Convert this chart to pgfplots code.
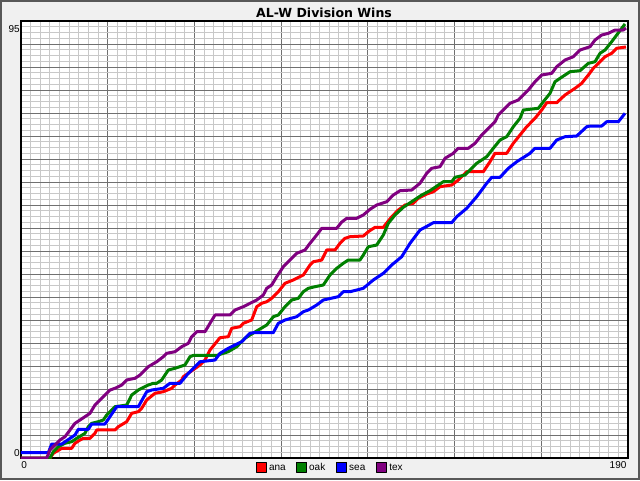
\documentclass[border=0pt]{standalone}
\usepackage{pgfplots}
\pgfplotsset{compat=1.18}
\usepackage{fontspec}
\setmainfont{Liberation Sans}
\newfontfamily\titlefont{DejaVu Sans}
\definecolor{bgcol}{HTML}{F0F0F0}
\definecolor{framecol}{HTML}{585858}
\definecolor{majgrid}{HTML}{707070}
\definecolor{mingrid}{HTML}{C8C8C8}
\definecolor{cana}{HTML}{FF0000}
\definecolor{coak}{HTML}{008000}
\definecolor{csea}{HTML}{0000FF}
\definecolor{ctex}{HTML}{800080}
\begin{document}
\begin{tikzpicture}
\fill[bgcol] (0,0) rectangle (480pt,360pt);
\draw[framecol, line width=1.5pt] (0.75pt,0.75pt) rectangle (479.25pt,359.25pt);
\begin{axis}[
  at={(15.75pt,16.5pt)}, anchor=south west,
  scale only axis, width=455.25pt, height=327.75pt,
  xmin=0, xmax=190, ymin=0, ymax=95,
  axis background/.style={fill=white},
  xtick={0,27.142857,54.285714,81.428571,108.571429,135.714286,162.857143,190},
  ytick={0,5,...,95},
  minor x tick num=8, minor y tick num=3,
  xticklabels={}, yticklabels={},
  major tick length=0pt, minor tick length=0pt,
  grid=both,
  major grid style={majgrid, line width=0.75pt},
  minor grid style={mingrid, line width=0.75pt},
  axis line style={black, line width=1pt},
  every axis plot/.append style={line width=2.25pt, line join=round},
  legend style={draw=none, fill=none, inner sep=0pt, outer sep=0pt,
    at={(0.3871,-0.0206)}, anchor=west, legend columns=4,
    nodes={inner sep=0pt, font=\fontsize{7.5}{9}\selectfont}},
  legend cell align=left,
  legend image code/.code={\draw[#1, draw=black, line width=0.75pt] (0pt,-3.75pt) rectangle (7.5pt,3.75pt);},
]
\addlegendimage{fill=cana}\addlegendentry{\makebox[21.8pt][l]{\hspace{1.6pt}\raisebox{-2pt}{ana}}}
\addlegendimage{fill=coak}\addlegendentry{\makebox[21.8pt][l]{\hspace{1.6pt}\raisebox{-2pt}{oak}}}
\addlegendimage{fill=csea}\addlegendentry{\makebox[21.8pt][l]{\hspace{1.6pt}\raisebox{-2pt}{sea}}}
\addlegendimage{fill=ctex}\addlegendentry{\makebox[21.8pt][l]{\hspace{1.6pt}\raisebox{-2pt}{tex}}}

% ana
\addplot[cana, forget plot] coordinates {
(0,0)(9.08,0)(10.11,1.02)(12.74,2.11)(15.87,2.11)(16.90,3.20)(18.47,3.91)(19.50,4.28)(21.60,4.28)(23.16,5.37)(23.70,6.09)(29.42,6.09)(30.46,6.80)(33.09,7.89)(34.65,9.72)(36.72,10.07)(37.78,10.80)(39.35,12.61)(41.94,14.07)(44.54,14.41)(47.17,15.15)(48.21,15.87)(50.30,16.96)(50.80,17.67)(56.03,20.22)(57.60,21.30)(59.16,23.48)(61.26,25.28)(62.29,26.15)(64.89,26.37)(65.95,28.20)(68.55,28.54)(69.58,29.28)(72.21,30.0)(73.78,32.89)(75.34,33.63)(76.91,33.98)(78.47,34.72)(80.54,36.15)(82.64,37.98)(85.24,38.70)(88.37,39.78)(90.46,41.96)(91.50,42.67)(94.13,43.04)(95.69,45.22)(98.29,45.22)(99.85,46.67)(101.42,47.76)(102.98,48.11)(107.15,48.26)(108.71,49.20)(110.81,50.15)(113.41,50.15)(116.04,52.46)(118.10,53.91)(120.20,55.0)(122.80,55.37)(124.36,56.46)(126.99,57.39)(129.06,57.89)(131.15,58.98)(134.82,59.35)(136.88,60.43)(139.51,62.24)(144.71,62.24)(146.80,64.41)(148.37,66.24)(152.03,66.24)(154.10,68.41)(156.19,70.22)(158.29,72.02)(160.89,73.85)(162.99,75.65)(164.55,77.24)(167.68,77.24)(170.28,78.91)(173.41,80.37)(175.51,81.46)(177.58,83.26)(179.14,84.72)(180.71,85.80)(182.80,87.24)(184.90,87.98)(186.46,89.07)(188.53,89.28)(189.37,89.35)
};
% oak
\addplot[coak, forget plot] coordinates {
(0,0)(9.08,0)(10.11,1.37)(11.68,2.46)(13.77,3.20)(15.87,3.54)(17.44,4.28)(20.03,5.37)(21.07,6.80)(22.13,7.54)(24.20,7.89)(25.76,8.26)(26.83,9.35)(27.86,10.07)(29.42,11.15)(33.09,11.52)(34.65,13.70)(36.72,14.78)(39.85,15.87)(41.41,16.24)(42.48,16.24)(44.04,16.96)(46.11,19.13)(48.20,19.50)(51.33,20.22)(52.90,22.02)(53.93,22.30)(61.26,22.30)(64.89,23.11)(67.52,24.20)(70.12,26.02)(71.68,26.74)(76.91,28.91)(79.0,30.72)(80.54,31.09)(82.64,32.89)(84.73,34.35)(86.80,34.72)(88.37,36.15)(89.93,36.89)(92.03,37.24)(94.63,37.61)(96.72,39.78)(98.82,41.24)(100.89,42.33)(102.45,43.04)(106.11,43.04)(107.15,44.13)(108.71,45.93)(111.34,46.30)(113.41,48.48)(114.97,51.02)(117.07,52.83)(119.67,54.50)(122.30,55.72)(125.43,57.17)(128.02,58.11)(132.19,60.07)(134.82,60.07)(135.85,61.02)(138.98,61.52)(140.55,62.61)(142.64,64.07)(145.77,65.50)(147.84,67.33)(149.94,69.13)(152.04,69.85)(154.10,72.02)(156.19,73.85)(157.23,75.65)(161.93,76.02)(163.49,77.46)(165.59,79.28)(167.15,81.80)(168.72,82.54)(171.85,83.98)(174.98,84.20)(177.58,85.80)(179.68,86.15)(181.24,87.98)(182.81,88.70)(184.90,90.50)(186.47,91.96)(188.03,93.41)(189.06,94.35)
};
% sea
\addplot[csea, forget plot] coordinates {
(0,1.15)(8.55,1.15)(9.61,3.04)(12.74,3.04)(16.9,5.0)(17.94,6.24)(21.07,6.24)(22.13,7.39)(26.29,7.39)(29.96,11.15)(36.72,11.15)(39.35,14.41)(40.91,14.78)(44.54,15.15)(46.64,16.24)(49.77,16.24)(52.37,18.41)(56.03,20.93)(60.73,21.30)(62.29,22.76)(64.89,23.85)(69.08,25.28)(71.68,27.11)(72.72,27.24)(78.97,27.24)(80.54,29.28)(82.64,30.0)(86.30,30.72)(88.37,31.80)(89.93,32.17)(92.56,33.26)(94.63,34.35)(99.32,35.07)(100.89,36.15)(102.98,36.15)(107.15,36.89)(110.28,38.70)(113.41,40.15)(116.04,41.96)(119.17,43.76)(121.77,46.67)(124.90,49.57)(126.46,50.15)(129.06,51.15)(134.82,51.15)(136.38,52.46)(139.51,54.28)(142.64,56.80)(145.77,59.72)(147.34,61.02)(149.94,61.02)(152.54,62.98)(155.17,64.41)(159.33,66.24)(160.90,67.33)(165.59,67.33)(167.69,69.13)(170.29,69.85)(173.95,70.0)(177.08,72.02)(178.12,72.17)(181.77,72.17)(183.34,73.11)(186.97,73.11)(189.06,74.93)
};
% tex
\addplot[ctex, forget plot] coordinates {
(0,0)(8.04,0)(9.08,1.74)(10.64,2.83)(12.21,3.91)(13.77,4.63)(15.34,6.09)(16.90,7.54)(18.47,8.26)(21.60,9.72)(23.16,11.52)(24.73,12.61)(26.83,14.07)(27.86,14.78)(29.42,15.15)(31.52,15.87)(33.09,16.96)(35.68,17.33)(37.25,18.04)(39.85,19.85)(42.48,20.93)(44.54,22.02)(45.61,22.76)(48.21,23.11)(50.30,24.20)(52.37,24.93)(53.43,26.37)(55.0,27.46)(57.60,27.46)(59.16,29.28)(60.73,31.09)(65.42,31.09)(66.99,32.17)(69.58,32.89)(71.68,33.63)(73.78,34.35)(75.84,35.43)(76.91,36.89)(78.47,37.61)(80.04,39.41)(82.11,41.59)(84.20,43.04)(86.30,44.50)(88.90,45.22)(90.46,46.67)(92.56,48.48)(94.13,49.93)(98.82,49.93)(100.39,51.30)(101.95,52.11)(105.08,52.11)(107.15,52.83)(109.24,54.07)(111.34,55.0)(114.47,55.72)(116.54,57.17)(118.63,58.11)(122.30,58.26)(124.89,59.72)(126.99,61.89)(128.55,62.98)(131.15,63.33)(132.72,65.15)(135.32,66.24)(136.88,67.33)(140.01,67.33)(142.11,68.41)(144.21,70.22)(146.27,71.67)(148.37,73.11)(149.40,74.57)(151.50,76.02)(153.07,77.11)(155.67,77.83)(157.23,78.91)(158.80,80.0)(160.89,81.80)(162.99,83.26)(166.12,83.63)(167.68,85.07)(170.28,86.52)(172.88,87.24)(174.98,88.70)(178.11,89.41)(179.68,90.87)(181.77,91.96)(183.85,92.33)(185.95,93.04)(188.53,93.04)(189.37,93.48)
};
\end{axis}
\node[font=\titlefont\bfseries\fontsize{9.4}{11}\selectfont, anchor=base, inner sep=0pt] at (243pt,347pt) {AL-W Division Wins};
\node[font=\fontsize{7.5}{9}\selectfont, anchor=base west, inner sep=0pt] at (15.75pt,9pt) {0};
\node[font=\fontsize{7.5}{9}\selectfont, anchor=base east, inner sep=0pt] at (470pt,9pt) {190};
\node[font=\fontsize{7.5}{9}\selectfont, anchor=base east, inner sep=0pt] at (15pt,18pt) {0};
\node[font=\fontsize{7.5}{9}\selectfont, anchor=base east, inner sep=0pt] at (15pt,335.8pt) {95};
\pgfresetboundingbox
\useasboundingbox (0,0) rectangle (480pt,360pt);
\end{tikzpicture}
\end{document}
